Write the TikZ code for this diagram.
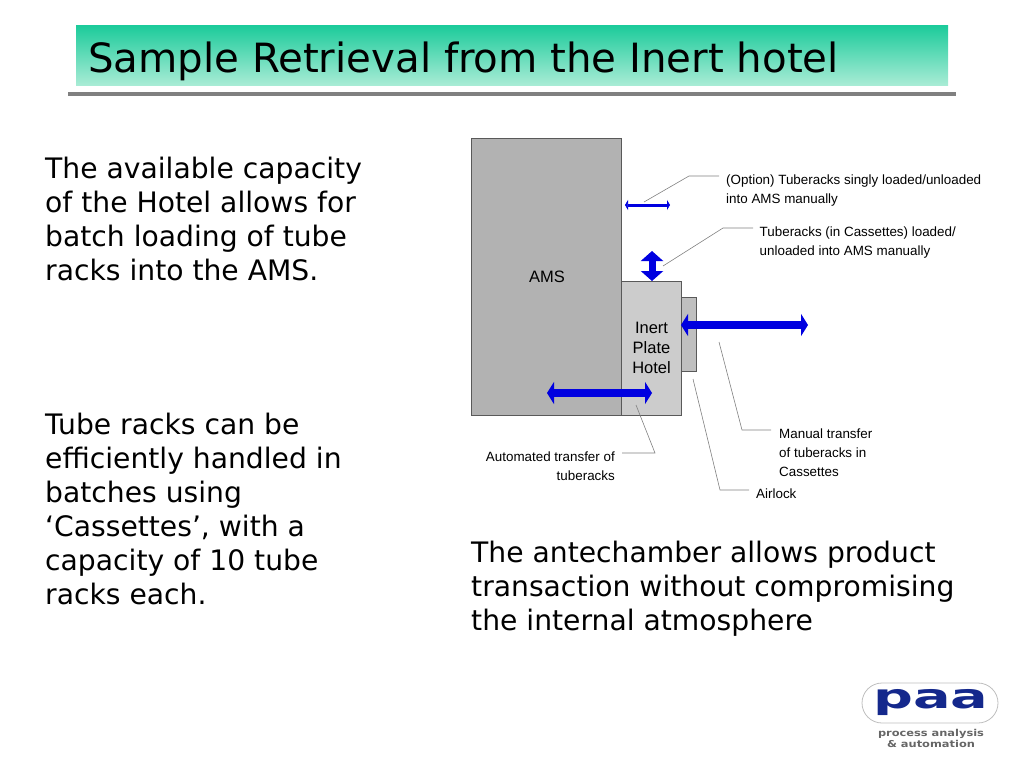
\documentclass[tikz,border=0pt]{standalone}
\usepackage{fontspec}
\setmainfont{DejaVu Sans}
\newfontfamily\labelfont{Liberation Sans}
\usetikzlibrary{arrows.meta}
\definecolor{bluearrow}{HTML}{0000E0}
\definecolor{leadergrey}{HTML}{808080}
\definecolor{paablue}{HTML}{14288C}
\definecolor{paagrey}{HTML}{666666}
\definecolor{titletop}{HTML}{1CCB9B}
\definecolor{titlebottom}{HTML}{AAECD6}
\tikzset{
  bodytext/.style={anchor=north west,inner sep=0pt,align=left,font=\fontsize{28.2}{34}\selectfont},
  notetext/.style={anchor=north west,inner sep=0pt,align=left,font=\labelfont\fontsize{13.4}{18.7}\selectfont},
  unit/.style={draw=black!65,line width=0.8pt},
  leader/.style={leadergrey,line width=0.6pt},
  bigarrow/.style={bluearrow,line width=8.5pt,{Triangle[width=22pt,length=7pt]}-{Triangle[width=22pt,length=7pt]}},
}
\begin{document}
\begin{tikzpicture}[x=1pt,y=-1pt]
\useasboundingbox (0,0) rectangle (1024,768);
% title bar
\shade[top color=titletop,bottom color=titlebottom] (76,25.5) rectangle (948,85.7);
\fill[black!50] (68,92) rectangle (956,96);
\node[anchor=base west,inner sep=0pt,font=\fontsize{40.3}{44}\selectfont] (title) at (88,72) {Sample Retrieval from the Inert hotel};
% left and lower text
\node[bodytext] (capacity) at (45,157) {The available capacity\\of the Hotel allows for\\batch loading of tube\\racks into the AMS.};
\node[bodytext] (cassettes) at (45,413) {Tube racks can be\\efficiently handled in\\batches using\\‘Cassettes’, with a\\capacity of 10 tube\\racks each.};
\node[bodytext] (antechamber) at (471,541) {The antechamber allows product\\transaction without compromising\\the internal atmosphere};
% units
\draw[unit,fill=black!30] (471,138) rectangle (621,415);
\draw[unit,fill=black!20] (621,281) rectangle (681,415);
\draw[unit,fill=black!25] (681,297) rectangle (696,371);
\node[font=\labelfont\fontsize{16.5}{20}\selectfont] (ams) at (547,276.5) {AMS};
\node[align=center,font=\labelfont\fontsize{16.5}{20}\selectfont] (hotel) at (651.5,348) {Inert\\Plate\\Hotel};
% arrows
\coordinate (singleL) at (625,205);
\coordinate (singleR) at (670,205);
\coordinate (batchT) at (652,251);
\coordinate (batchB) at (652,281);
\coordinate (manualL) at (681,325);
\coordinate (manualR) at (808,325);
\coordinate (autoL) at (547,393);
\coordinate (autoR) at (652,393);
\draw[bluearrow,line width=3pt,{Triangle[width=10pt,length=3pt]}-{Triangle[width=10pt,length=3pt]}] (singleL) -- (singleR);
\draw[bluearrow,line width=7pt,{Triangle[width=22pt,length=10pt]}-{Triangle[width=22pt,length=10pt]}] (batchT) -- (batchB);
\draw[bigarrow] (manualL) -- (manualR);
\draw[bigarrow] (autoL) -- (autoR);
% notes
\node[notetext] (optnote) at (726,174.5) {(Option) Tuberacks singly loaded/unloaded\\into AMS manually};
\node[notetext] (casnote) at (759.5,226.5) {Tuberacks (in Cassettes) loaded/\\unloaded into AMS manually};
\node[notetext] (mannote) at (779,429) {Manual transfer\\of tuberacks in\\Cassettes};
\node[notetext] (airnote) at (756,489) {Airlock};
\node[notetext,align=right,anchor=north east] (autnote) at (615,451.5) {Automated transfer of\\tuberacks};
% leaders
\draw[leader] (644,202) -- (689,176) -- (719,176);
\draw[leader] (663,266) -- (723,228) -- (753,228);
\draw[leader] (719,342) -- (742,430) -- (771,430);
\draw[leader] (693,379) -- (720,490) -- (749,490);
\draw[leader] (636,405) -- (655,453) -- (622,453);
% logo
\draw[black!25,fill=white,line width=0.8pt,rounded corners=20pt] (862,683) rectangle (998,723);
\node[inner sep=0pt,xscale=1.64,transform shape,paablue,font=\bfseries\fontsize{34}{36}\selectfont] (paa) at (931,703) {paa};
\node[inner sep=0pt,xscale=1.2,transform shape,paagrey,font=\bfseries\fontsize{9.5}{10}\selectfont] (paaline) at (931,734) {process analysis};
\node[inner sep=0pt,xscale=1.2,transform shape,paagrey,font=\bfseries\fontsize{9.5}{10}\selectfont] (paaauto) at (931,744) {\& automation};
\end{tikzpicture}
\end{document}
